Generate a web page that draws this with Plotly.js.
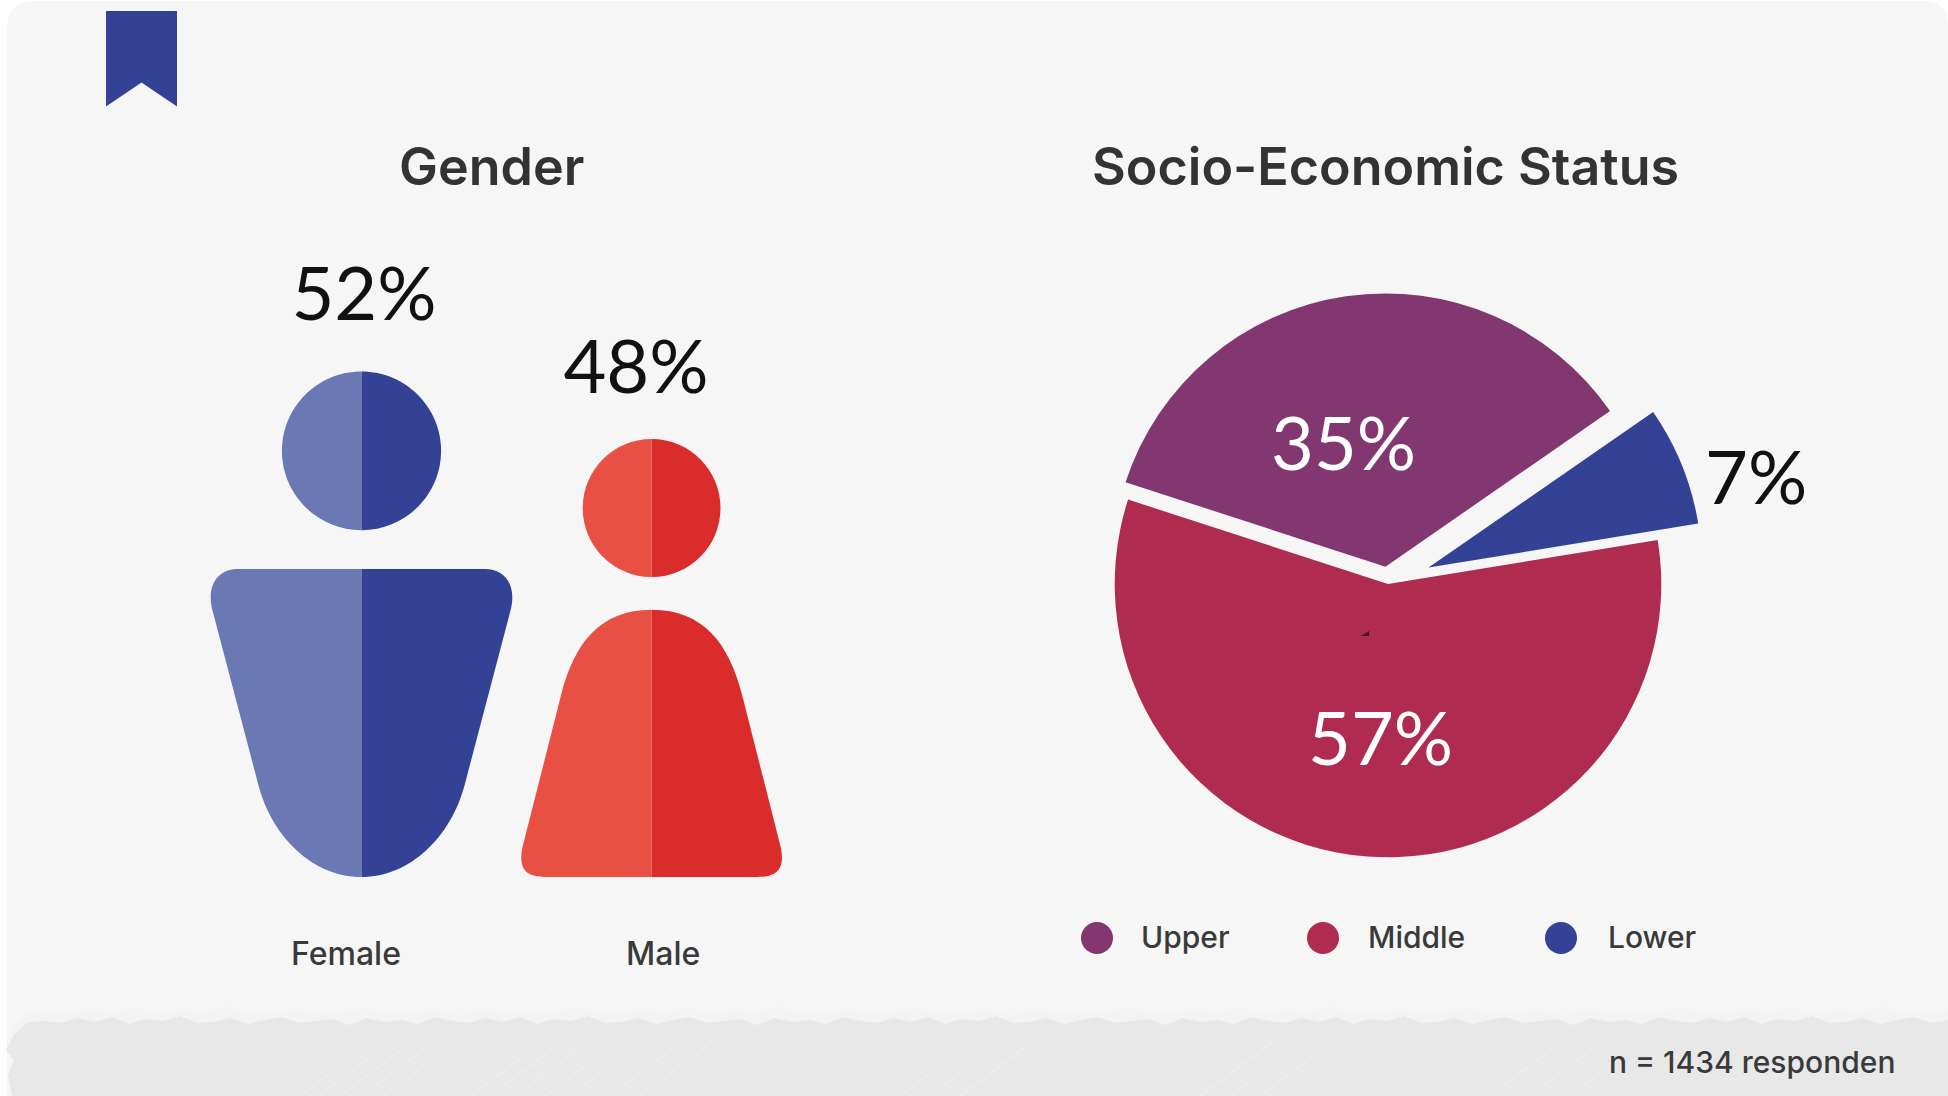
<!DOCTYPE html>
<html>
<head>
<meta charset="utf-8">
<script src="https://cdn.plot.ly/plotly-3.0.1.min.js"></script>
<style>html,body{margin:0;padding:0;background:#fff}</style>
</head>
<body>
<div id="chart" style="width:1948px;height:1096px"></div>
<script>
// Gender breakdown
const genderCategories = ["Female", "Male"];
const genderValues = [52, 48];
const genderLabelX = [364, 636];
const genderLabelLift = [4.1, 3.8];
const genderCategoryLabelX = [346, 663];

// Socio-economic status breakdown
const statusCategories = ["Upper", "Middle", "Lower"];
const statusValues = [35, 57, 7];
const statusPull = [0.064, 0, 0.16];
const statusColors = ["#833770", "#b02b50", "#344296"];

// Sample size note
const sampleNote = "n = 1434 responden";

const W = 1948, H = 1096;
const FONT_HEAD = "Inter, Roboto, sans-serif";
const FONT_BODY = "Inter, Roboto, sans-serif";
const FONT_NUM = "Lato, Roboto, sans-serif";

// Figures stand on a hidden value axis whose baseline sits at 22.4
const BASE = 22.4, PX_PER_UNIT = 17.08, BASE_PX = 877;
const yRange = [BASE - (H - BASE_PX) / PX_PER_UNIT, BASE + BASE_PX / PX_PER_UNIT];

// Half outlines of each figure: dx in half-widths, t as a share of full height
const figures = [
  { cx: 361.5, half: 151, light: "#6a78b4", dark: "#344296",
    head: { t: 0.843, rt: 0.157, rx: 0.527 },
    body: [["M",0,0.609],["L",0.82,0.609],["C",0.94,0.609,1.035,0.58,0.985,0.525],["L",0.683,0.182],
           ["C",0.592,0.079,0.321,0,0,0]] },
  { cx: 651.6, half: 131, light: "#e85044", dark: "#da2c2a",
    head: { t: 0.844, rt: 0.158, rx: 0.526 },
    body: [["M",0,0.611],["C",0.40,0.611,0.593,0.532,0.692,0.415],["L",0.98,0.075],
           ["C",1.035,0.01,0.93,0,0.8,0],["L",0,0]] }
];

// Build one half of a figure part as a path in axis coordinates
function halfPath(cmds, fig, value, side) {
  const X = d => (fig.cx + side * d * fig.half).toFixed(2);
  const Y = t => (BASE + (value - BASE) * t).toFixed(3);
  return cmds.map(c => {
    const pts = [];
    for (let i = 1; i < c.length; i += 2) pts.push(X(c[i]) + "," + Y(c[i + 1]));
    return c[0] + pts.join(" ");
  }).join(" ") + " Z";
}
function headCmds(h) {
  const k = 0.5523;
  return [["M",0,h.t + h.rt],
    ["C",k*h.rx,h.t + h.rt,h.rx,h.t + k*h.rt,h.rx,h.t],
    ["C",h.rx,h.t - k*h.rt,k*h.rx,h.t - h.rt,0,h.t - h.rt]];
}

const shapes = [];
const py = p => (1 - p / H).toFixed(4);

// Card
shapes.push({ type:"path", xref:"paper", yref:"paper", layer:"below", line:{width:0}, fillcolor:"#f6f6f6",
  path:"M0.0036,0 L0.0036,0.975 Q0.0036,0.999 0.0185,0.999 L0.988,0.999 Q1,0.999 1,0.975 L1,0 Z" });

// Torn footer band, with a paler fringe just above its edge
const edge = [0,2,-3,1,-4,3,-2,0,-5,2,1,-3,3,-1,-4,2,0,-2,4,-3,1,-1,3,-4];
function footerPath(lift, step) {
  let p = "M12," + py(1096) + " L8," + py(1075) + " L14," + py(1060) + " L6," + py(1050) +
          " L14," + py(1035 - lift) + " L28," + py(1022 - lift);
  let i = 0;
  for (let x = 44; x < W; x += step) {
    p += " L" + x + "," + py(1021 - lift + edge[i % edge.length]);
    i++;
  }
  return p + " L" + W + "," + py(1020 - lift) + " L" + W + "," + py(1096) + " Z";
}
shapes.push({ type:"path", xref:"x", yref:"paper", layer:"below", line:{width:0}, fillcolor:"#f3f3f3",
  path: footerPath(9, 23) });
shapes.push({ type:"path", xref:"x", yref:"paper", layer:"below", line:{width:0}, fillcolor:"#e8e8e8",
  path: footerPath(0, 17) });

// Pen hatching inside the footer band
const hatchStarts = [300,318,340,362,384,470,490,515,545,570,610,640,900,930,960,1200,1230,1260,1490,1530,1570];
hatchStarts.forEach((x, i) => {
  const len = 40 + (i % 4) * 12;
  shapes.push({ type:"line", xref:"x", yref:"paper", layer:"below",
    x0:x, x1:x + len, y0:0, y1:1 - (1096 - len * 0.75) / H,
    line:{ color:"#ededed", width:1.5 } });
});

// Bookmark tab
shapes.push({ type:"path", xref:"x", yref:"paper", layer:"below", line:{width:0}, fillcolor:"#344296",
  path:"M106,0.9899 L177,0.9899 L177,0.9029 L141.5,0.9247 L106,0.9029 Z" });

// Figures
figures.forEach((fig, i) => {
  const v = genderValues[i];
  [[-1, fig.light], [1, fig.dark]].forEach(([side, col]) => {
    shapes.push({ type:"path", xref:"x", yref:"y", layer:"above", line:{width:0}, fillcolor:col,
      path: halfPath(fig.body, fig, v, side) });
    shapes.push({ type:"path", xref:"x", yref:"y", layer:"above", line:{width:0}, fillcolor:col,
      path: halfPath(headCmds(fig.head), fig, v, side) });
  });
});

// Legend dots
const legendDotX = [1097, 1323, 1561];
const legendLabelX = [1139, 1366, 1606];
statusCategories.forEach((c, i) => {
  shapes.push({ type:"circle", xref:"x", yref:"paper", layer:"above", line:{width:0}, fillcolor:statusColors[i],
    x0:legendDotX[i]-16, x1:legendDotX[i]+16, y0:py(938+16), y1:py(938-16) });
});

// Small dark speck in the middle slice
shapes.push({ type:"path", xref:"x", yref:"paper", layer:"above", line:{width:0}, fillcolor:"#40182c",
  path:"M1361,"+py(636)+" L1369,"+py(631)+" L1369,"+py(636)+" Z" });

const anno = (text, x, y, size, color, family, weight, xanchor) => ({
  text, x, y: 1 - y / H, xref:"x", yref:"paper", showarrow:false,
  xanchor: xanchor || "center", yanchor:"middle",
  font:{ size, color, family, weight: weight || 400 }
});

const annotations = [
  anno("Gender", 491, 166, 52, "#333333", FONT_HEAD, 600),
  anno("Socio-Economic Status", 1385, 166, 52, "#333333", FONT_HEAD, 600),
  anno(genderCategories[0], genderCategoryLabelX[0], 953, 32, "#3a3a3a", FONT_BODY, 500),
  anno(genderCategories[1], genderCategoryLabelX[1], 953, 32, "#3a3a3a", FONT_BODY, 500),
  anno(statusValues[0] + "%", 1343, 441, 74, "#ffffff", FONT_NUM),
  anno(statusValues[1] + "%", 1380, 736, 74, "#ffffff", FONT_NUM),
  anno(statusValues[2] + "%", 1756, 476, 74, "#111111", FONT_NUM),
  anno(sampleNote, 1897, 1062, 30, "#3a3a3a", FONT_BODY, 500, "right")
];
statusCategories.forEach((c, i) => {
  annotations.push(anno(c, legendLabelX[i], 937, 30, "#3a3a3a", FONT_BODY, 500, "left"));
});

const traces = [
  {
    type:"pie", labels:statusCategories, values:statusValues, pull:statusPull, sort:false,
    direction:"counterclockwise", rotation:-72, textinfo:"none", hoverinfo:"label+percent",
    marker:{ colors:statusColors, line:{ width:0 } }, showlegend:false,
    domain:{ x:[(1388-317)/W,(1388+317)/W], y:[1-(584+317)/H,1-(584-317)/H] }
  },
  {
    type:"scatter", mode:"text", x:genderLabelX,
    y:genderValues.map((v, i) => v + genderLabelLift[i]), text:genderValues.map(v => v + "%"),
    textposition:"middle center", cliponaxis:false, hoverinfo:"skip", showlegend:false,
    textfont:{ size:74, color:"#111111", family:FONT_NUM }
  }
];

const layout = {
  width:W, height:H, margin:{l:0,r:0,t:0,b:0}, showlegend:false,
  paper_bgcolor:"#ffffff", plot_bgcolor:"rgba(0,0,0,0)",
  xaxis:{ visible:false, range:[0,W], fixedrange:true },
  yaxis:{ visible:false, range:yRange, fixedrange:true },
  shapes, annotations
};

Plotly.newPlot("chart", traces, layout, { displayModeBar:false, staticPlot:true });
</script>
</body>
</html>
